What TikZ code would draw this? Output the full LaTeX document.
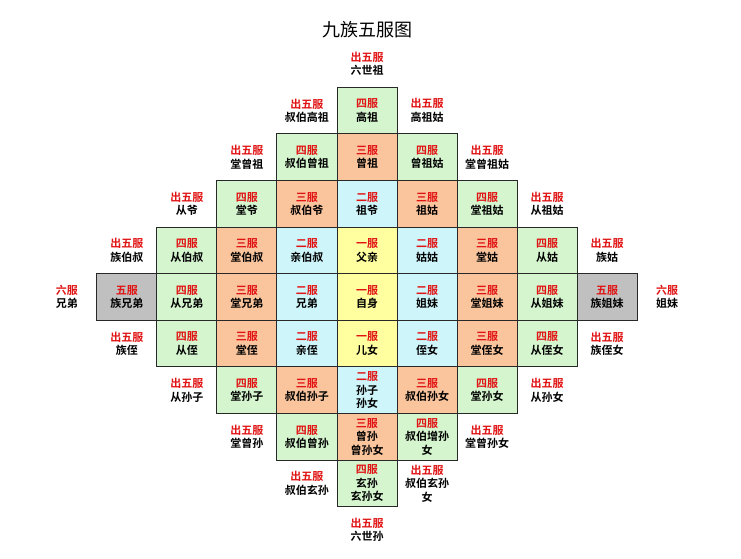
\documentclass[tikz,border=0pt]{standalone}
\usepackage{fontspec}
\newfontfamily\cjk{Noto Sans CJK SC}[BoldFont={Noto Sans CJK SC Bold}]
\definecolor{cgreen}{RGB}{212,245,206}
\definecolor{corange}{RGB}{250,196,156}
\definecolor{cblue}{RGB}{206,245,250}
\definecolor{cyellow}{RGB}{255,255,160}
\definecolor{cgray}{RGB}{192,192,192}
\definecolor{fured}{RGB}{225,20,20}
\definecolor{cline}{RGB}{40,40,40}
\newcommand\fu[1]{\textcolor{fured}{#1}}
\begin{document}
\begin{tikzpicture}[x=60pt,y=-46.6pt,
  cellbase/.style={minimum width=60pt, minimum height=46.6pt, inner sep=0pt, align=center,
    font=\cjk\bfseries\fontsize{11}{13.5}\selectfont, text=black},
  tcell/.style={cellbase},
  boxed/.style={cellbase, draw=cline, line width=1pt},
  gcell/.style={boxed, fill=cgreen},
  ocell/.style={boxed, fill=corange},
  bcell/.style={boxed, fill=cblue},
  ycell/.style={boxed, fill=cyellow},
  grcell/.style={boxed, fill=cgray},
  titlestyle/.style={font=\cjk\fontsize{18}{20}\selectfont, text=black, inner sep=0pt}]
\useasboundingbox[fill=white] (-6.11667,-6.37339) rectangle (6.23333,5.62232);
\node[titlestyle] (title) at (0,-5.73) {九族五服图};
% row -5
\node[tcell] (r5m0) at (0,-5) {\fu{出五服}\\六世祖};
% row -4
\node[tcell] (m4l1) at (-1,-4) {\fu{出五服}\\叔伯高祖};
\node[gcell] (m4c0) at (0,-4) {\fu{四服}\\高祖};
\node[tcell] (m4r1) at (1,-4) {\fu{出五服}\\高祖姑};
% row -3
\node[tcell] (m3l2) at (-2,-3) {\fu{出五服}\\堂曾祖};
\node[gcell] (m3l1) at (-1,-3) {\fu{四服}\\叔伯曾祖};
\node[ocell] (m3c0) at (0,-3) {\fu{三服}\\曾祖};
\node[gcell] (m3r1) at (1,-3) {\fu{四服}\\曾祖姑};
\node[tcell] (m3r2) at (2,-3) {\fu{出五服}\\堂曾祖姑};
% row -2
\node[tcell] (m2l3) at (-3,-2) {\fu{出五服}\\从爷};
\node[gcell] (m2l2) at (-2,-2) {\fu{四服}\\堂爷};
\node[ocell] (m2l1) at (-1,-2) {\fu{三服}\\叔伯爷};
\node[bcell] (m2c0) at (0,-2) {\fu{二服}\\祖爷};
\node[ocell] (m2r1) at (1,-2) {\fu{三服}\\祖姑};
\node[gcell] (m2r2) at (2,-2) {\fu{四服}\\堂祖姑};
\node[tcell] (m2r3) at (3,-2) {\fu{出五服}\\从祖姑};
% row -1
\node[tcell] (m1l4) at (-4,-1) {\fu{出五服}\\族伯叔};
\node[gcell] (m1l3) at (-3,-1) {\fu{四服}\\从伯叔};
\node[ocell] (m1l2) at (-2,-1) {\fu{三服}\\堂伯叔};
\node[bcell] (m1l1) at (-1,-1) {\fu{二服}\\亲伯叔};
\node[ycell] (m1c0) at (0,-1) {\fu{一服}\\父亲};
\node[bcell] (m1r1) at (1,-1) {\fu{二服}\\姑姑};
\node[ocell] (m1r2) at (2,-1) {\fu{三服}\\堂姑};
\node[gcell] (m1r3) at (3,-1) {\fu{四服}\\从姑};
\node[tcell] (m1r4) at (4,-1) {\fu{出五服}\\族姑};
% row 0
\node[tcell] (z0l5) at (-5,0) {\fu{六服}\\兄弟};
\node[grcell] (z0l4) at (-4,0) {\fu{五服}\\族兄弟};
\node[gcell] (z0l3) at (-3,0) {\fu{四服}\\从兄弟};
\node[ocell] (z0l2) at (-2,0) {\fu{三服}\\堂兄弟};
\node[bcell] (z0l1) at (-1,0) {\fu{二服}\\兄弟};
\node[ycell] (z0c0) at (0,0) {\fu{一服}\\自身};
\node[bcell] (z0r1) at (1,0) {\fu{二服}\\姐妹};
\node[ocell] (z0r2) at (2,0) {\fu{三服}\\堂姐妹};
\node[gcell] (z0r3) at (3,0) {\fu{四服}\\从姐妹};
\node[grcell] (z0r4) at (4,0) {\fu{五服}\\族姐妹};
\node[tcell] (z0r5) at (5,0) {\fu{六服}\\姐妹};
% row 1
\node[tcell] (p1l4) at (-4,1) {\fu{出五服}\\族侄};
\node[gcell] (p1l3) at (-3,1) {\fu{四服}\\从侄};
\node[ocell] (p1l2) at (-2,1) {\fu{三服}\\堂侄};
\node[bcell] (p1l1) at (-1,1) {\fu{二服}\\亲侄};
\node[ycell] (p1c0) at (0,1) {\fu{一服}\\儿女};
\node[bcell] (p1r1) at (1,1) {\fu{二服}\\侄女};
\node[ocell] (p1r2) at (2,1) {\fu{三服}\\堂侄女};
\node[gcell] (p1r3) at (3,1) {\fu{四服}\\从侄女};
\node[tcell] (p1r4) at (4,1) {\fu{出五服}\\族侄女};
% row 2
\node[tcell] (p2l3) at (-3,2) {\fu{出五服}\\从孙子};
\node[gcell] (p2l2) at (-2,2) {\fu{四服}\\堂孙子};
\node[ocell] (p2l1) at (-1,2) {\fu{三服}\\叔伯孙子};
\node[bcell] (p2c0) at (0,2) {\fu{二服}\\孙子\\孙女};
\node[ocell] (p2r1) at (1,2) {\fu{三服}\\叔伯孙女};
\node[gcell] (p2r2) at (2,2) {\fu{四服}\\堂孙女};
\node[tcell] (p2r3) at (3,2) {\fu{出五服}\\从孙女};
% row 3
\node[tcell] (p3l2) at (-2,3) {\fu{出五服}\\堂曾孙};
\node[gcell] (p3l1) at (-1,3) {\fu{四服}\\叔伯曾孙};
\node[ocell] (p3c0) at (0,3) {\fu{三服}\\曾孙\\曾孙女};
\node[gcell] (p3r1) at (1,3) {\fu{四服}\\叔伯增孙\\女};
\node[tcell] (p3r2) at (2,3) {\fu{出五服}\\堂曾孙女};
% row 4
\node[tcell] (p4l1) at (-1,4) {\fu{出五服}\\叔伯玄孙};
\node[gcell] (p4c0) at (0,4) {\fu{四服}\\玄孙\\玄孙女};
\node[tcell] (p4r1) at (1,4) {\fu{出五服}\\叔伯玄孙\\女};
% row 5
\node[tcell] (p5c0) at (0,5) {\fu{出五服}\\六世孙};
\end{tikzpicture}
\end{document}
